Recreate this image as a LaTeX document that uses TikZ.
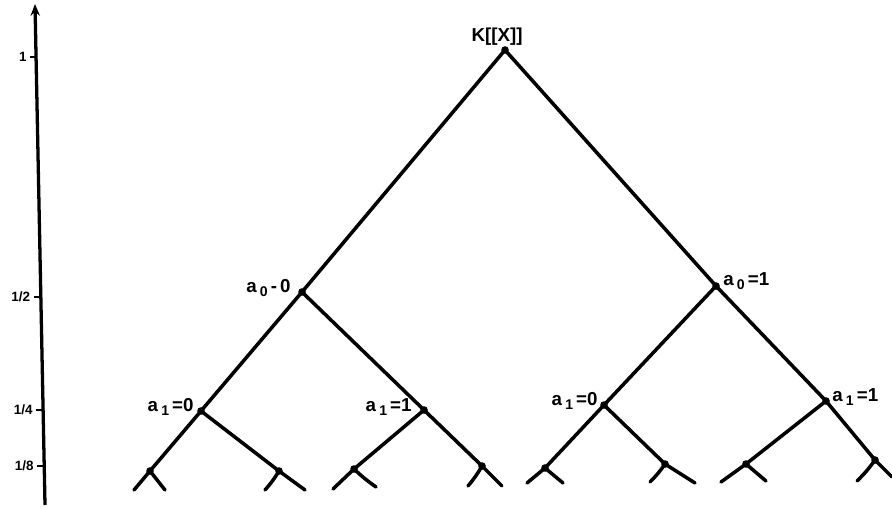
\documentclass[tikz,border=0pt]{standalone}
\usepackage{fontspec}
\setmainfont{Liberation Sans}
\usetikzlibrary{arrows.meta}
\newcommand{\lsub}[1]{\,\raisebox{-0.35ex}{\fontsize{12}{12}\selectfont #1}\,}
\begin{document}
\begin{tikzpicture}[x=0.03cm,y=-0.03cm,
  branch/.style={line width=3pt,line cap=round},
  stub/.style={line width=3pt,line cap=round},
  dot/.style={circle,fill=black,inner sep=0pt,minimum size=6.5pt},
  lbl/.style={font=\fontsize{16}{18}\selectfont\bfseries,inner sep=1pt},
  axlbl/.style={font=\fontsize{11.5}{13}\selectfont\bfseries,inner sep=2pt,anchor=east},
  axis/.style={line width=2.8pt,-{Stealth[length=10pt,width=8pt]}},
  tick/.style={line width=1.8pt}]
\useasboundingbox (0,0) rectangle (892,509);
% axis
\coordinate (ax0) at (45,505);
\coordinate (ax1) at (35,4);
\draw[axis] (ax0) -- (ax1);
\foreach \yy/\tx/\xx in {57/1/36,297/{1/2}/39.6,410/{1/4}/41.9,466/{1/8}/43} {
  \coordinate (t) at (\xx,\yy);
  \draw[tick] (t) -- ++(-6,0) node[axlbl] {\tx};
}
% tree nodes
\node[dot] (r) at (505,50) {};
\node[dot] (l) at (302,292) {};
\node[dot] (R) at (716,286) {};
\node[dot] (ll) at (201,411) {};
\node[dot] (lr) at (424,410) {};
\node[dot] (rl) at (604,405) {};
\node[dot] (rr) at (826,401) {};
\node[dot] (a) at (150,471) {};
\node[dot] (b) at (279,471) {};
\node[dot] (c) at (354,469) {};
\node[dot] (d) at (482,466) {};
\node[dot] (e) at (545,468) {};
\node[dot] (f) at (665,464) {};
\node[dot] (g) at (746,464) {};
\node[dot] (h) at (875,460) {};
\coordinate (a1) at (134,490); \coordinate (a2) at (165,490);
\coordinate (b1) at (265,490); \coordinate (b2) at (305,490);
\coordinate (c1) at (333,489); \coordinate (c2) at (376,487);
\coordinate (d1) at (468,486); \coordinate (d2) at (502,486);
\coordinate (e1) at (527,483); \coordinate (e2) at (563,483);
\coordinate (f1) at (650,482); \coordinate (f2) at (695,483);
\coordinate (g1) at (721,482); \coordinate (g2) at (766,481);
\coordinate (h1) at (857,481); \coordinate (h2) at (892,477);
% main branches
\draw[branch] (r.center) -- (l.center) -- (ll.center) -- (a.center) -- (a1);
\draw[branch] (l.center) -- (lr.center) -- (d.center) -- (d2);
\draw[branch] (ll.center) -- (b.center) -- (b2);
\draw[branch] (lr.center) -- (c.center) -- (c1);
\draw[branch] (r.center) -- (R.center) -- (rr.center) -- (h.center) -- (h2);
\draw[branch] (R.center) -- (rl.center) -- (e.center) -- (e1);
\draw[branch] (rl.center) -- (f.center) -- (f2);
\draw[branch] (rr.center) -- (g.center) -- (g1);
% leaf stubs
\draw[stub] (a.center) -- (a2);
\draw[stub] (b.center) to[bend left=5] (b1);
\draw[stub] (c.center) to[bend right=4] (c2);
\draw[stub] (d.center) to[bend left=5] (d1);
\draw[stub] (e.center) -- (e2);
\draw[stub] (f.center) to[bend left=5] (f1);
\draw[stub] (g.center) -- (g2);
\draw[stub] (h.center) to[bend left=5] (h1);
% labels
\node[lbl] (tK) at (497,37) {K[[X]]};
\node[lbl,anchor=east] (t00) at (292,288) {a\lsub{0}-\,0};
\node[lbl,anchor=west] (t01) at (722,281) {a\lsub{0}=1};
\node[lbl,anchor=east] (t10a) at (195,407) {a\lsub{1}=0};
\node[lbl,anchor=east] (t11a) at (413,407) {a\lsub{1}=1};
\node[lbl,anchor=east] (t10b) at (599,401) {a\lsub{1}=0};
\node[lbl,anchor=west] (t11b) at (831,397) {a\lsub{1}=1};
\end{tikzpicture}
\end{document}
